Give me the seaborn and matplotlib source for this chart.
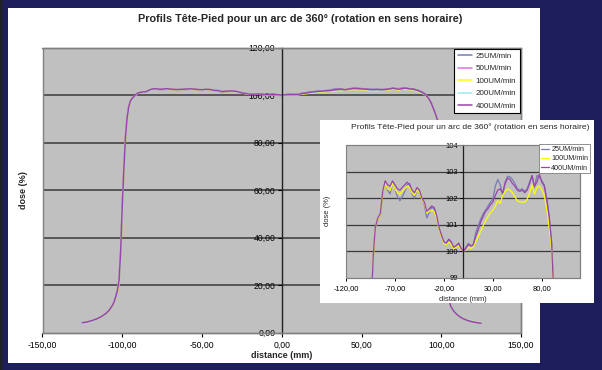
import matplotlib
matplotlib.use("Agg")
import matplotlib.pyplot as plt
from matplotlib.patches import Rectangle
from matplotlib.lines import Line2D
from matplotlib.ticker import FuncFormatter, FixedLocator
import pandas as pd
import seaborn as sns

sns.set_theme(style="ticks")
plt.rcParams["font.family"] = ["Liberation Sans", "DejaVu Sans"]

# ---------------------------------------------------------------- data
series_names = ["25UM/min", "50UM/min", "100UM/min", "200UM/min", "400UM/min"]
series_colors = ["#7a7ab8", "#e070e0", "#ffff00", "#9ee8f0", "#9a45a8"]

# fine sampling (25, 100 and 400 UM/min)
distance_fine = [
    -125, -122, -119, -116, -113, -110, -108, -106, -105, -104, -103, -102,
    -101, -100, -99, -98, -97, -96, -95, -94, -93, -92, -91,
    -90, -87.5, -85, -82.5, -80, -77.5, -75, -72.5, -70, -67.5, -65, -62.5,
    -60, -57.5, -55, -52.5, -50, -47.5, -45, -42.5, -40, -37.5, -35, -32.5,
    -30, -27.5, -25, -22.5, -20, -17.5, -15, -12.5, -10, -7.5, -5, -2.5,
    0, 2.5, 5, 7.5, 10, 12.5, 15, 17.5, 20, 22.5, 25, 27.5,
    30, 32.5, 35, 37.5, 40, 42.5, 45, 47.5, 50, 52.5, 55, 57.5,
    60, 62.5, 65, 67.5, 70, 72.5, 75, 77.5, 80, 82.5, 85, 87.5, 90,
    91, 92, 93, 94, 95, 96, 97, 98, 99, 100, 101, 102, 103, 104,
    106, 108, 110, 113, 116, 119, 122, 125,
]

dose_25 = [
    4.0, 4.3, 4.9, 5.6, 6.6, 8.0, 9.4, 11.4, 12.9, 14.9, 17.4, 21.5,
    33.0, 52.0, 68.0, 81.5, 89.5, 94.5, 97.0, 98.3, 99.0, 99.8, 100.4,
    100.9, 101.2, 101.35, 102.2, 102.6, 102.3, 102.15, 102.6, 102.35, 102.05, 101.9, 102.05,
    102.25, 102.5, 102.55, 102.15, 102.0, 102.3, 102.2, 101.95, 101.75, 101.25, 101.45, 101.65,
    101.6, 101.3, 100.85, 100.6, 100.35, 100.3, 100.45, 100.3, 100.15, 100.2, 100.3, 100.1,
    100.0, 100.15, 100.3, 100.2, 100.2, 100.7, 100.95, 101.2, 101.4, 101.55, 101.7, 101.85,
    101.95, 102.45, 102.7, 102.5, 102.1, 102.6, 102.82, 102.8, 102.7, 102.55, 102.35, 102.3,
    102.35, 102.25, 102.35, 102.6, 102.85, 102.4, 102.85, 102.8, 102.65, 102.5, 102.0, 101.35, 100.35,
    99.5, 98.7, 97.6, 96.2, 94.5, 92.8, 91.0, 88.8, 84.5, 75.0, 56.0, 35.0, 22.0, 16.0,
    11.2, 9.0, 7.6, 6.2, 5.3, 4.7, 4.3, 4.0,
]

dose_100 = [
    3.9, 4.2, 4.8, 5.5, 6.5, 7.9, 9.3, 11.3, 12.8, 14.7, 17.2, 21.0,
    32.0, 51.0, 67.5, 81.0, 89.0, 94.2, 96.8, 98.2, 99.0, 99.8, 100.4,
    100.9, 101.2, 101.35, 102.2, 102.55, 102.35, 102.3, 102.55, 102.35, 102.2, 102.15, 102.25,
    102.35, 102.45, 102.4, 102.2, 102.1, 102.3, 102.2, 101.95, 101.8, 101.45, 101.5, 101.55,
    101.5, 101.25, 100.85, 100.55, 100.3, 100.25, 100.35, 100.25, 100.1, 100.15, 100.2, 100.05,
    100.0, 100.05, 100.15, 100.1, 100.15, 100.35, 100.55, 100.75, 100.95, 101.15, 101.3, 101.45,
    101.55, 101.7, 101.9, 101.8, 102.1, 102.25, 102.35, 102.3, 102.2, 102.05, 101.9, 101.85,
    101.85, 101.85, 101.95, 102.2, 102.5, 102.15, 102.4, 102.45, 102.3, 102.1, 101.6, 100.9, 100.1,
    99.3, 98.5, 97.4, 96.0, 94.3, 92.6, 90.9, 88.7, 84.8, 75.5, 57.0, 36.0, 22.5, 16.2,
    11.3, 9.1, 7.7, 6.3, 5.4, 4.8, 4.4, 4.1,
]

dose_400 = [
    4.1, 4.4, 5.0, 5.7, 6.7, 8.1, 9.5, 11.6, 13.1, 15.2, 17.8, 22.0,
    34.0, 53.0, 68.5, 82.0, 90.0, 94.8, 97.2, 98.4, 99.1, 99.9, 100.45,
    100.9, 101.25, 101.4, 102.25, 102.65, 102.5, 102.45, 102.65, 102.5, 102.35, 102.3, 102.4,
    102.5, 102.6, 102.5, 102.3, 102.2, 102.4, 102.3, 102.0, 101.85, 101.5, 101.6, 101.7,
    101.65, 101.35, 100.9, 100.6, 100.35, 100.3, 100.45, 100.35, 100.15, 100.2, 100.3, 100.1,
    100.0, 100.1, 100.25, 100.2, 100.25, 100.55, 100.8, 101.1, 101.3, 101.5, 101.6, 101.75,
    101.85, 102.1, 102.3, 102.35, 102.2, 102.55, 102.75, 102.7, 102.55, 102.45, 102.3, 102.25,
    102.3, 102.2, 102.3, 102.55, 102.85, 102.45, 102.6, 102.9, 102.6, 102.45, 101.95, 101.3, 100.3,
    99.4, 98.6, 97.5, 96.1, 94.4, 92.7, 90.8, 88.5, 84.0, 74.0, 55.0, 34.0, 21.5, 15.8,
    11.0, 8.9, 7.5, 6.1, 5.2, 4.6, 4.2, 3.9,
]

# coarser sampling (50 and 200 UM/min)
distance_coarse = [
    -125, -120, -115, -110, -106, -104, -102, -101, -100, -99, -98, -97, -96, -95, -93,
    -90, -85, -80, -75, -70, -65, -60, -55, -50, -45, -40, -35, -30, -25, -20, -15, -10, -5,
    0, 5, 10, 15, 20, 25, 30, 35, 40, 45, 50, 55, 60, 65, 70, 75, 80, 85, 90,
    92, 94, 96, 98, 99, 100, 101, 102, 104, 106, 110, 115, 120, 125,
]

dose_50 = [
    4.0, 4.6, 5.8, 8.0, 11.5, 15.0, 21.8, 33.5, 52.5, 68.2, 81.8, 89.8, 94.6, 97.1, 99.1,
    100.9, 101.4, 102.6, 102.3, 102.4, 102.1, 102.4, 102.5, 102.1, 102.25, 101.8, 101.5, 101.6, 100.9, 100.35, 100.4, 100.15, 100.25,
    100.0, 100.25, 100.2, 100.85, 101.35, 101.65, 101.9, 102.5, 102.15, 102.8, 102.6, 102.3, 102.3, 102.3, 102.8, 102.7, 102.6, 102.0, 100.3,
    98.7, 96.1, 92.7, 88.6, 84.3, 74.5, 55.5, 34.5, 15.9, 11.1, 7.6, 5.5, 4.6, 4.0,
]

dose_200 = [
    4.0, 4.5, 5.7, 7.9, 11.4, 14.8, 21.3, 32.5, 51.5, 67.8, 81.3, 89.3, 94.4, 96.9, 99.0,
    100.9, 101.35, 102.55, 102.35, 102.35, 102.2, 102.35, 102.45, 102.15, 102.25, 101.8, 101.55, 101.55, 100.85, 100.3, 100.4, 100.1, 100.25,
    100.0, 100.2, 100.15, 100.7, 101.2, 101.5, 101.75, 102.2, 102.15, 102.55, 102.4, 102.1, 102.1, 102.15, 102.65, 102.5, 102.45, 101.85, 100.2,
    98.6, 96.0, 92.6, 88.6, 84.6, 75.0, 56.5, 35.5, 16.1, 11.2, 7.7, 5.6, 4.7, 4.1,
]

main_xticks = [-150, -100, -50, 0, 50, 100, 150]
main_yticks = [0, 20, 40, 60, 80, 100, 120]
inset_xticks = [-120, -70, -20, 30, 80]
inset_yticks = [99, 100, 101, 102, 103, 104]
inset_names = ["25UM/min", "100UM/min", "400UM/min"]

title_text = "Profils Tête-Pied pour un arc de 360° (rotation en sens horaire)"

# ---------------------------------------------------------------- frames
frames = []
for name, xs, ys in [
    ("25UM/min", distance_fine, dose_25),
    ("50UM/min", distance_coarse, dose_50),
    ("100UM/min", distance_fine, dose_100),
    ("200UM/min", distance_coarse, dose_200),
    ("400UM/min", distance_fine, dose_400),
]:
    frames.append(pd.DataFrame({"distance": xs, "dose": ys, "debit": name}))
profiles = pd.concat(frames, ignore_index=True)
palette = dict(zip(series_names, series_colors))

# ---------------------------------------------------------------- figure
W, H = 602, 370
fig = plt.figure(figsize=(W / 100, H / 100), dpi=100, facecolor="#1e1e5c")


def box(x0, y0, x1, y1):
    """pixel box (top-left origin) -> figure fraction rect"""
    return [x0 / W, 1 - y1 / H, (x1 - x0) / W, (y1 - y0) / H]


def comma2(v, pos=None):
    return f"{v:.2f}".replace(".", ",")


# white chart panel
r = box(8, 8, 540, 363)
fig.patches.append(Rectangle((r[0], r[1]), r[2], r[3], transform=fig.transFigure,
                             facecolor="white", edgecolor="none", zorder=0.1))
# thin dark edge at the far left
r = box(0, 0, 3, 370)
fig.patches.append(Rectangle((r[0], r[1]), r[2], r[3], transform=fig.transFigure,
                             facecolor="#20202c", edgecolor="none", zorder=0.1))

# ---- main chart
ax = fig.add_axes(box(42.5, 47.5, 521, 332.5), zorder=1)
ax.set_facecolor("#c0c0c0")
sns.lineplot(data=profiles, x="distance", y="dose", hue="debit",
             hue_order=series_names, palette=palette, estimator=None,
             sort=False, linewidth=1.1, legend=False, ax=ax)
ax.set_xlim(-150, 150)
ax.set_ylim(0, 120)
ax.xaxis.set_major_locator(FixedLocator(main_xticks))
ax.yaxis.set_major_locator(FixedLocator(main_yticks))
ax.xaxis.set_major_formatter(FuncFormatter(comma2))
ax.yaxis.set_major_formatter(FuncFormatter(comma2))
for yv in main_yticks[1:-1]:
    ax.axhline(yv, color="#3a3a3a", lw=1.1, zorder=0.5)
for s in ["top", "right", "bottom"]:
    ax.spines[s].set_color("#808080")
    ax.spines[s].set_linewidth(1.0)
ax.spines["left"].set_position(("data", 0))
ax.spines["left"].set_color("#202020")
ax.spines["left"].set_linewidth(1.0)
ax.add_patch(Rectangle((0, 0), 1, 1, transform=ax.transAxes, fill=False,
                       edgecolor="#808080", lw=1.0, zorder=5, clip_on=False))
ax.tick_params(axis="both", labelsize=6.2, colors="black", length=3, width=0.8,
               direction="out", pad=1.5)
ax.tick_params(axis="x", pad=3)
ax.set_xlabel("distance (mm)", fontsize=6.5, fontweight="bold", va="center")
ax.xaxis.set_label_coords(0.5, -0.082)
ax.set_ylabel("dose (%)", fontsize=6.5, fontweight="bold", va="center")
ax.yaxis.set_label_coords(-0.04, 0.5)

handles = [Line2D([], [], color=c, lw=1.1) for c in series_colors]
leg = ax.legend(handles, series_names, loc="upper right", fontsize=5.8,
                frameon=True, fancybox=False, framealpha=1, edgecolor="black",
                borderaxespad=0.15, handlelength=1.8, handletextpad=0.4,
                labelspacing=0.6, borderpad=0.45)
leg.get_frame().set_linewidth(0.8)

fig.text(300 / W, 1 - 18.5 / H, title_text, ha="center", va="center",
         fontsize=7.8, fontweight="bold", zorder=10)

# ---- inset chart
r = box(320, 120, 594, 303)
fig.patches.append(Rectangle((r[0], r[1]), r[2], r[3], transform=fig.transFigure,
                             facecolor="white", edgecolor="none", zorder=2))
ins = fig.add_axes(box(346, 145, 580, 277.7), zorder=3)
ins.set_facecolor("#c0c0c0")
inset_data = profiles[profiles["debit"].isin(inset_names)]
sns.lineplot(data=inset_data, x="distance", y="dose", hue="debit",
             hue_order=inset_names, palette=palette, estimator=None,
             sort=False, linewidth=0.9, legend=False, ax=ins)
ins.set_xlim(-120, 119)
ins.set_ylim(99, 104)
ins.xaxis.set_major_locator(FixedLocator(inset_xticks))
ins.yaxis.set_major_locator(FixedLocator(inset_yticks))
ins.xaxis.set_major_formatter(FuncFormatter(comma2))
ins.yaxis.set_major_formatter(FuncFormatter(lambda v, p: f"{v:.0f}"))
for yv in inset_yticks[1:-1]:
    ins.axhline(yv, color="#3a3a3a", lw=0.9, zorder=0.5)
for s in ["top", "right", "bottom"]:
    ins.spines[s].set_color("#808080")
    ins.spines[s].set_linewidth(0.8)
ins.spines["left"].set_position(("data", 0))
ins.spines["left"].set_color("#202020")
ins.spines["left"].set_linewidth(0.9)
ins.add_patch(Rectangle((0, 0), 1, 1, transform=ins.transAxes, fill=False,
                        edgecolor="#808080", lw=0.8, zorder=5, clip_on=False))
ins.tick_params(axis="both", labelsize=5.4, colors="black", length=2.5, width=0.7,
                direction="out", pad=1.5)
ins.tick_params(axis="x", pad=3)
ins.set_xlabel("distance (mm)", fontsize=5.4, va="center")
ins.xaxis.set_label_coords(0.5, -0.165)
ins.set_ylabel("dose (%)", fontsize=5.4, va="center")
ins.yaxis.set_label_coords(-0.077, 0.5)

ih = [Line2D([], [], color=palette[n], lw=0.9) for n in inset_names]
ileg = ins.legend(ih, inset_names, loc="upper right", fontsize=5.2,
                  bbox_to_anchor=((590 - 346) / 234, 1.005), frameon=True,
                  fancybox=False, framealpha=1, edgecolor="#808080",
                  borderaxespad=0, handlelength=1.1, handletextpad=0.3,
                  labelspacing=0.3, borderpad=0.25)
ileg.get_frame().set_linewidth(0.6)

fig.text(470 / W, 1 - 127 / H, title_text, ha="center", va="center",
         fontsize=6.1, zorder=10)

fig.savefig("out.png", dpi=100, facecolor=fig.get_facecolor())
